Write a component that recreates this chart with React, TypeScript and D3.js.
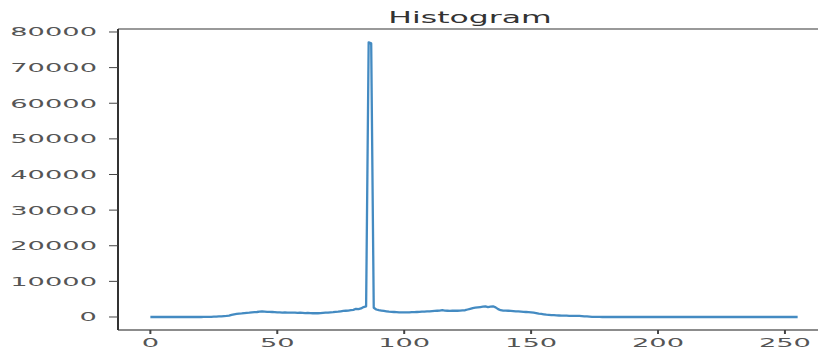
import React from 'react'
import * as d3 from 'd3'

// pixel intensity counts, bins 0..255
const counts = [
  0, 0, 0, 0, 0, 0, 0, 0, 0, 0,
  0, 0, 0, 0, 0, 0, 0, 0, 0, 0,
  5, 10, 20, 40, 60, 90, 120, 160, 200, 250,
  300, 400, 600, 750, 850, 950, 1000, 1100, 1150, 1200,
  1300, 1350, 1400, 1500, 1550, 1500, 1450, 1450, 1400, 1350,
  1300, 1300, 1250, 1300, 1250, 1200, 1250, 1200, 1150, 1200,
  1150, 1100, 1150, 1100, 1050, 1100, 1050, 1100, 1150, 1200,
  1250, 1300, 1350, 1450, 1500, 1600, 1700, 1750, 1800, 1900,
  2000, 2300, 2200, 2400, 2800, 3000, 77100, 76800, 2600, 2100,
  1900, 1800, 1700, 1600, 1500, 1450, 1400, 1350, 1300, 1300,
  1300, 1300, 1300, 1350, 1350, 1400, 1450, 1500, 1500, 1550,
  1600, 1650, 1700, 1750, 1800, 1900, 1800, 1750, 1700, 1750,
  1800, 1750, 1800, 1850, 1900, 2100, 2300, 2500, 2600, 2700,
  2800, 2900, 3000, 2800, 2900, 3000, 2700, 2200, 1900, 1800,
  1800, 1750, 1700, 1650, 1600, 1550, 1500, 1450, 1400, 1350,
  1300, 1200, 1100, 950, 850, 750, 650, 600, 550, 500,
  450, 420, 400, 380, 360, 340, 330, 320, 330, 300,
  250, 200, 150, 100, 60, 40, 20, 10, 0, 0,
  0, 0, 0, 0, 0, 0, 0, 0, 0, 0,
  0, 0, 0, 0, 0, 0, 0, 0, 0, 0,
  0, 0, 0, 0, 0, 0, 0, 0, 0, 0,
  0, 0, 0, 0, 0, 0, 0, 0, 0, 0,
  0, 0, 0, 0, 0, 0, 0, 0, 0, 0,
  0, 0, 0, 0, 0, 0, 0, 0, 0, 0,
  0, 0, 0, 0, 0, 0, 0, 0, 0, 0,
  0, 0, 0, 0, 0, 0,
]
const xTicks = [0, 50, 100, 150, 200, 250]
const yTicks = [0, 10000, 20000, 30000, 40000, 50000, 60000, 70000, 80000]
const title = 'Histogram'

const W = 818
const H = 351
const plot = { left: 118, right: 830, top: 29, bottom: 330 }
const stretch = 2.1
const font = 'DejaVu Sans, sans-serif'

export default function App() {
  const x = d3.scaleLinear().domain([-12.75, 267.75]).range([plot.left, plot.right])
  const y = d3.scaleLinear().domain([-3650, 80840]).range([plot.bottom, plot.top])
  const line = d3.line<number>().x((d, i) => x(i)).y(d => y(d))

  return (
    <svg width={W} height={H} style={{ position: 'absolute', left: 0, top: 0, background: '#fff' }}>
      {/* spines */}
      <line x1={plot.left} x2={W} y1={plot.top} y2={plot.top} stroke="#777" strokeWidth={1.3} />
      <line x1={plot.left} x2={W} y1={plot.bottom} y2={plot.bottom} stroke="#666" strokeWidth={1.3} />
      <line x1={plot.left} x2={plot.left} y1={plot.top} y2={plot.bottom} stroke="#333" strokeWidth={2} />

      <path d={line(counts) || ''} fill="none" stroke="#2a7bba" strokeWidth={2.3} strokeLinejoin="round" opacity={0.88} />

      {yTicks.map(t => (
        <g key={t}>
          <line x1={plot.left - 9} x2={plot.left} y1={y(t)} y2={y(t)} stroke="#444" strokeWidth={1} />
          <text transform={`translate(${plot.left - 21},${y(t) + 4.5}) scale(${stretch},1)`}
            textAnchor="end" fontFamily={font} fontSize={13} fill="#555">{t}</text>
        </g>
      ))}
      {xTicks.map(t => (
        <g key={t}>
          <line x1={x(t)} x2={x(t)} y1={plot.bottom} y2={plot.bottom + 4} stroke="#444" strokeWidth={2} />
          <text transform={`translate(${x(t)},${plot.bottom + 17}) scale(${stretch},1)`}
            textAnchor="middle" fontFamily={font} fontSize={13} fill="#555">{t}</text>
        </g>
      ))}
      <text transform={`translate(${(plot.left + plot.right) / 2 - 4},${plot.top - 6}) scale(${stretch},1)`}
        textAnchor="middle" fontFamily={font} fontSize={15} fill="#333">{title}</text>
    </svg>
  )
}
